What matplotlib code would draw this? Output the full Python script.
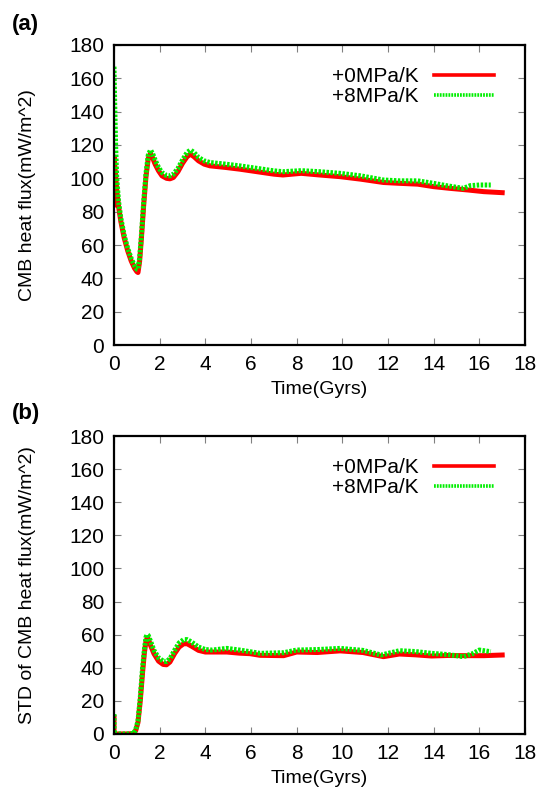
import matplotlib
matplotlib.use('Agg')
import matplotlib.pyplot as plt

plt.rcParams['font.family'] = ['Liberation Sans', 'DejaVu Sans']

######################### DATA ################################################

# (a) CMB heat flux
t_a_0 = [0.0, 0.0, 0.05, 0.12, 0.2, 0.3, 0.45, 0.6, 0.75, 0.9, 1.0, 1.05, 1.12, 1.2,
         1.3, 1.4, 1.5, 1.6, 1.7, 1.8, 1.95, 2.1, 2.3, 2.45, 2.6, 2.8, 3.0, 3.2,
         3.35, 3.5, 3.7, 3.95, 4.2, 4.9, 5.5, 6.0, 6.5, 7.0, 7.4, 8.2, 9.0, 9.9,
         10.8, 11.8, 12.5, 13.3, 14.0, 14.7, 15.5, 16.2, 17.0]
q_a_0 = [84, 113, 105, 93, 83, 74, 64, 56.5, 50.5, 46, 44, 43.5, 50, 64,
         84, 101, 112, 115, 112, 108.5, 104.5, 101.5, 100, 99.7, 100.5, 104, 109, 113,
         114.5, 113, 110.5, 108.5, 107.5, 106.5, 105.5, 104.5, 103.5, 102.5, 102, 103, 102, 101,
         99.5, 97.5, 97, 96.5, 95, 94, 93, 92, 91.4]

t_a_8 = [0.0, 0.03, 0.07, 0.12, 0.2, 0.3, 0.45, 0.6, 0.75, 0.9, 1.0, 1.05, 1.12, 1.2,
         1.3, 1.4, 1.5, 1.6, 1.7, 1.8, 1.95, 2.1, 2.3, 2.45, 2.6, 2.8, 3.0, 3.2,
         3.35, 3.5, 3.7, 3.95, 4.2, 4.9, 5.5, 6.0, 6.5, 7.0, 7.4, 8.2, 9.0, 9.9,
         10.8, 11.8, 12.5, 13.3, 14.0, 14.6, 15.3, 15.6, 16.0, 16.5]
q_a_8 = [167, 145, 120, 100, 86, 76, 65.5, 58, 52, 47.5, 45.5, 45.3, 52, 66,
         86, 103, 114, 117, 114.5, 111, 106.5, 103.5, 101.7, 101.5, 102.5, 106, 111, 115.5,
         117, 115.5, 112.5, 110.5, 109.5, 108.5, 107.5, 106.5, 105.5, 104.5, 104, 104.6, 104, 103,
         101.5, 99, 98.5, 98.5, 97, 95.5, 94, 95.6, 96, 96]

# (b) STD of CMB heat flux
t_b_0 = [0.0, 0.0, 0.03, 0.3, 0.6, 0.85, 0.95, 1.05, 1.15, 1.25, 1.33, 1.4, 1.45,
         1.5, 1.6, 1.75, 1.95, 2.15, 2.3, 2.45, 2.65, 2.85, 3.05, 3.2, 3.4, 3.7,
         4.0, 4.3, 4.94, 5.5, 5.96, 6.4, 7.43, 8.0, 8.9, 9.9, 10.9, 11.8, 12.5,
         13.2, 13.9, 14.6, 15.4, 16.2, 17.0]
s_b_0 = [10, 0.5, 0, 0, 0, 0.3, 2, 7, 20, 37, 49, 56, 58,
         57.5, 53.5, 48.5, 44, 42, 41.8, 43.5, 48.5, 52.5, 54.5, 54.5, 53, 50.5,
         49.5, 49.5, 49.5, 48.8, 48.5, 47.5, 47.3, 49.5, 49.2, 50.2, 49.2, 46.7, 48.3,
         47.8, 47.1, 47.4, 47.3, 47.3, 47.7]

t_b_8 = [0.0, 0.0, 0.03, 0.3, 0.6, 0.85, 0.95, 1.05, 1.15, 1.25, 1.33, 1.4, 1.45,
         1.5, 1.6, 1.75, 1.95, 2.15, 2.3, 2.45, 2.65, 2.85, 3.05, 3.2, 3.4, 3.7,
         4.0, 4.3, 4.94, 5.5, 5.96, 6.4, 7.43, 8.0, 8.9, 9.9, 10.9, 11.7, 12.5,
         13.2, 13.9, 14.6, 15.3, 15.7, 16.0, 16.5]
s_b_8 = [12, 0.5, 0, 0, 0, 0.3, 2.5, 8, 22, 40, 51, 58.5, 60,
         59.5, 56, 50.5, 46, 44, 43.7, 45.5, 50.5, 55, 57, 57, 55.5, 52.5,
         51, 50.7, 51.7, 50.7, 49.7, 48.7, 49.1, 50.7, 51, 51.7, 50.5, 47.7, 50.3,
         49.8, 48.7, 48, 46.7, 48.5, 50.7, 49.7]

labels = ['+0MPa/K', '+8MPa/K']
ylabs = ['CMB heat flux(mW/m^2)', 'STD of CMB heat flux(mW/m^2)']
panels = ['(a)', '(b)']

######################### FIG PARAMS ##########################################

red = '#ff0000'
green = '#00ee00'
fs = 15
lw = 3.6

fig = plt.figure(figsize=(5.5, 7.99), dpi=100)
ax1 = fig.add_axes([0.2073, 0.5682, 0.7473, 0.3755])
ax2 = fig.add_axes([0.2073, 0.0814, 0.7473, 0.3729])

series = [(t_a_0, q_a_0, t_a_8, q_a_8), (t_b_0, s_b_0, t_b_8, s_b_8)]

for i, ax in enumerate([ax1, ax2]):
    x0, y0, x8, y8 = series[i]
    ax.plot(x0, y0, c=red, lw=lw, label=labels[0], solid_joinstyle='round')
    ax.plot(x8, y8, c=green, lw=lw, ls=(0, (0.5, 0.3)), label=labels[1])

    ax.set_xlim(0, 18)
    ax.set_ylim(0, 180)
    ax.set_xticks(range(0, 19, 2))
    ax.set_yticks(range(0, 181, 20))
    ax.tick_params(direction='in', length=5, width=0.8, color='0.5',
                   top=True, right=True, labelsize=fs, pad=7)
    for sp in ax.spines.values():
        sp.set_linewidth(1.6)
    ax.set_xlabel('Time(Gyrs)', fontsize=14, labelpad=5)
    ax.set_ylabel(ylabs[i], fontsize=14, labelpad=24)

    leg = ax.legend(loc='upper right', frameon=False, fontsize=15,
                    markerfirst=False, handlelength=2.9, handletextpad=0.7,
                    labelspacing=0.05, borderaxespad=0.3,
                    bbox_to_anchor=(0.96, 0.975))
    for h in leg.get_lines():
        h.set_linewidth(2.6)

fig.text(0.022, 0.962, panels[0], fontsize=16, fontweight='bold')
fig.text(0.022, 0.475, panels[1], fontsize=16, fontweight='bold')

fig.savefig('out.png', dpi=100)
plt.close()
